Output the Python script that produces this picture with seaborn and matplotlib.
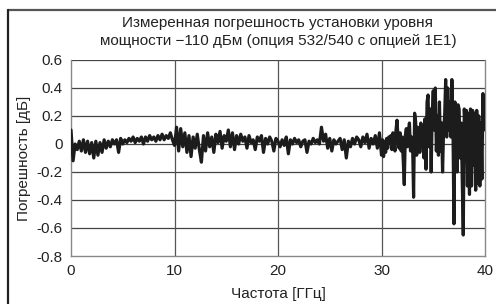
import numpy as np
import pandas as pd
import seaborn as sns
import matplotlib.pyplot as plt
from matplotlib.lines import Line2D
plt.switch_backend('agg')

# frequency grid [GHz]: 0..30 in 0.2 steps, 30.1..40 in 0.1 steps
freq_low = np.round(np.arange(0, 30.01, 0.2), 1)
freq_high = np.round(np.arange(30.1, 40.01, 0.1), 1)

err_low = [
    0.10, -0.12, 0.00, -0.04, 0.02, -0.05, 0.03, -0.06, 0.02, -0.07, 0.01,
    -0.10, 0.02, -0.08, 0.01, -0.06, 0.03, -0.03, 0.02, -0.02, 0.03,
    0.00, 0.03, -0.06, 0.04, 0.00, 0.03, 0.01, 0.04, 0.02, 0.05,
    0.01, 0.04, 0.02, 0.05, 0.00, 0.05, 0.02, 0.06, 0.03, 0.05,
    0.02, 0.06, 0.03, 0.07, 0.03, 0.06, 0.04, 0.08, 0.03, -0.01,
    0.12, -0.05, 0.11, -0.02, 0.08, -0.06, 0.06, -0.09, 0.05, -0.03,
    0.07, -0.04, -0.13, 0.06, -0.05, 0.08, -0.02, 0.05, -0.06, 0.07,
    0.01, 0.09, -0.03, 0.06, 0.02, 0.10, -0.02, 0.08, -0.04, 0.06,
    0.00, 0.07, 0.02, 0.05, -0.03, 0.06, 0.01, 0.03, -0.04, 0.05,
    0.02, 0.06, -0.06, 0.04, 0.00, 0.05, 0.02, -0.05, 0.04, 0.02,
    -0.02, 0.03, -0.01, 0.05, -0.07, 0.03, 0.00, 0.04, 0.01, 0.03,
    -0.02, 0.02, 0.03, -0.06, 0.02, 0.00, 0.04, 0.01, 0.03, 0.00,
    0.12, 0.02, 0.07, -0.03, 0.04, -0.05, 0.03, 0.00, 0.02, 0.04,
    -0.04, 0.03, -0.10, 0.02, -0.02, 0.04, 0.00, 0.05, 0.03, -0.02,
    0.05, 0.01, 0.07, -0.03, 0.04, 0.00, 0.06, -0.03, 0.08, -0.08,
]
err_high = [
    0.03, -0.09, 0.02, -0.06, 0.04, -0.03, 0.05, 0.01, 0.06, -0.04,
    0.08, 0.02, -0.05, 0.10, 0.17, 0.04, -0.03, 0.08, -0.05, 0.05,
    -0.12, -0.29, 0.06, 0.11, -0.02, 0.09, 0.15, -0.05, 0.05, 0.02,
    -0.38, 0.22, 0.16, -0.08, 0.12, 0.07, -0.06, 0.15, 0.08, 0.02,
    -0.10, 0.18, -0.18, 0.30, 0.35, -0.02, 0.25, -0.20, 0.22, 0.38,
    0.10, 0.40, -0.05, 0.20, -0.08, 0.30, -0.05, 0.15, -0.20, 0.10,
    0.20, 0.46, 0.05, 0.40, 0.10, 0.30, 0.05, 0.46, 0.15, -0.57,
    0.30, 0.10, -0.20, 0.28, 0.25, -0.10, 0.15, -0.25, -0.65, 0.25,
    0.10, 0.24, -0.30, 0.22, -0.36, 0.25, -0.30, 0.24, -0.15, 0.22,
    -0.33, 0.24, -0.28, 0.20, -0.30, 0.15, -0.25, 0.36, 0.10, 0.22,
]

df = pd.DataFrame({
    'freq': np.concatenate([freq_low, freq_high]),
    'err': err_low + err_high,
})

title = 'Измеренная погрешность установки уровня\nмощности −110 дБм (опция 532/540 с опцией 1E1)'
xticks = [0, 10, 20, 30, 40]
yticks = [-0.8, -0.6, -0.4, -0.2, 0, 0.2, 0.4, 0.6]
yticklabels = ['-0.8', '-0.6', '-0.4', '-0.2', '0', '0.2', '0.4', '0.6']

sns.set_style('white')
plt.rcParams['font.family'] = ['Liberation Sans', 'DejaVu Sans']

fig = plt.figure(figsize=(4.96, 3.04), dpi=100)
ax = fig.add_axes([71 / 496, 1 - 256 / 304, 414 / 496, 196 / 304])

for y in yticks[1:]:
    ax.axhline(y, color='#444444', lw=0.9, zorder=1)
for x in xticks[1:-1]:
    ax.axvline(x, color='#555555', lw=0.9, zorder=1)

sns.lineplot(data=df, x='freq', y='err', ax=ax, color='#1c1c1c', linewidth=2.3, zorder=3)

ax.set_xlim(0, 40)
ax.set_ylim(-0.8, 0.6)
ax.set_xticks(xticks)
ax.set_xticklabels([str(t) for t in xticks])
ax.set_yticks(yticks)
ax.set_yticklabels(yticklabels)
ax.tick_params(axis='both', labelsize=11, colors='#222222', length=3,
               width=0.8, direction='out', pad=3)
ax.tick_params(axis='both', color='#888888')
ax.spines['top'].set_visible(False)
for side in ['left', 'bottom', 'right']:
    ax.spines[side].set_color('#888888')
    ax.spines[side].set_linewidth(1.0)

ax.set_xlabel('Частота [ГГц]', fontsize=11, color='#222222', labelpad=6)
ax.set_ylabel('Погрешность [дБ]', fontsize=11, color='#222222', labelpad=4)

fig.text(278 / 496, 1 - 32 / 304, title, ha='center', va='center',
         fontsize=11, color='#222222', linespacing=1.45)

# outer frame (only top and left edges visible)
fig.add_artist(Line2D([8 / 496, 1.0], [1 - 10 / 304, 1 - 10 / 304],
                      transform=fig.transFigure, color='#555555', lw=1.6))
fig.add_artist(Line2D([8 / 496, 8 / 496], [0.0, 1 - 10 / 304],
                      transform=fig.transFigure, color='#222222', lw=1.6))

fig.savefig('out.png', dpi=100)
